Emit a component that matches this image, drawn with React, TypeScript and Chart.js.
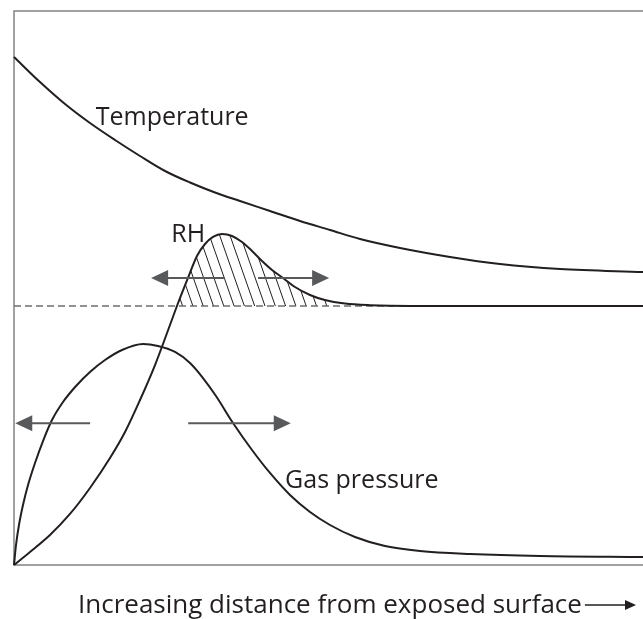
import { useEffect, useRef } from 'react';
import { Chart, registerables } from 'chart.js';

Chart.register(...registerables);

// Distance from exposed surface (arbitrary units 0-100) and relative level (0-100)
const TEMP_X = [0, 4.13, 8.11, 12.08, 16.06, 20.03, 24.01, 27.98, 31.96, 35.93, 40.7, 45.47, 50.24, 55.01, 61.37, 69.32, 77.27, 86.8, 100];
const TEMP_Y = [91.7, 87.18, 83.21, 79.78, 76.71, 73.83, 71.12, 69.04, 67.24, 65.7, 63.9, 62.09, 60.47, 58.84, 57.22, 55.6, 54.33, 53.43, 52.89];

const RH_X = [0, 2.54, 5.72, 8.9, 12.08, 15.26, 17.65, 20.03, 22.42, 24.8, 25.91, 27.66, 29.09, 30.37, 31.64, 33.07, 34.66, 36.25, 37.84, 39.43, 41.02, 42.77, 44.67, 47.06, 49.44, 52.62, 56.6, 63.0, 100];
const RH_Y = [0, 2.35, 5.42, 9.21, 13.9, 19.31, 24.01, 29.78, 36.1, 43.32, 46.75, 51.81, 55.78, 57.94, 59.21, 59.75, 59.39, 58.3, 56.68, 54.87, 53.25, 51.81, 50.18, 48.74, 47.83, 47.2, 46.9, 46.75, 46.75];

const GAS_X = [0, 0.32, 0.79, 1.43, 2.23, 3.34, 4.61, 6.04, 7.79, 9.86, 12.08, 14.47, 17.17, 20.51, 22.89, 25.6, 27.98, 30.05, 32.11, 34.82, 37.84, 40.7, 43.88, 47.06, 50.24, 54.21, 58.98, 64.55, 72.5, 83.63, 100];
const GAS_Y = [0, 3.61, 7.22, 10.83, 14.44, 18.41, 22.38, 26.17, 29.42, 32.31, 34.84, 37.0, 38.81, 39.89, 39.53, 38.45, 36.46, 33.75, 30.51, 25.63, 20.76, 16.61, 12.64, 9.57, 7.22, 5.05, 3.43, 2.53, 1.99, 1.62, 1.44];

const REF_X = [0, 100];
const REF_Y = [46.75, 46.75];

const HATCH_END_X = 50.5;

const CURVE_LABELS = ['Temperature', 'RH', 'Gas pressure'];
const CURVE_LABEL_X = [13.0, 25.0, 43.1];
const CURVE_LABEL_Y = [79.4, 58.3, 13.9];

// arrows: [fromX, toX, y]
const ARROWS = [
  [33.5, 21.8, 51.8],
  [38.8, 50.1, 51.8],
  [12.1, 0.2, 25.6],
  [27.7, 44.0, 25.6],
];

const AXIS_TITLE = 'Increasing distance from exposed surface';

const INK = '#231f20';
const GREY = '#58595b';
const FRAME = '#808285';
const FONT = '"Open Sans", "Noto Sans", sans-serif';

function pts(xs: number[], ys: number[]) {
  return xs.map((x, i) => ({ x, y: ys[i] }));
}

function drawArrow(ctx: CanvasRenderingContext2D, x1: number, y: number, x2: number, headLen: number, halfW: number, lw: number, color: string) {
  const dir = x2 > x1 ? 1 : -1;
  ctx.save();
  ctx.strokeStyle = color;
  ctx.fillStyle = color;
  ctx.lineWidth = lw;
  ctx.beginPath();
  ctx.moveTo(x1, y);
  ctx.lineTo(x2 - dir * headLen * 0.8, y);
  ctx.stroke();
  ctx.beginPath();
  ctx.moveTo(x2, y);
  ctx.lineTo(x2 - dir * headLen, y - halfW);
  ctx.lineTo(x2 - dir * headLen, y + halfW);
  ctx.closePath();
  ctx.fill();
  ctx.restore();
}

const overlay = {
  id: 'overlay',
  beforeDatasetsDraw(chart: any) {
    const { ctx, chartArea, scales } = chart;
    const xS = scales.x;
    const yS = scales.y;
    // frame (no right side)
    ctx.save();
    ctx.strokeStyle = FRAME;
    ctx.lineWidth = 1.5;
    ctx.beginPath();
    ctx.moveTo(chartArea.right + 2, chartArea.top);
    ctx.lineTo(chartArea.left, chartArea.top);
    ctx.lineTo(chartArea.left, chartArea.bottom);
    ctx.lineTo(chartArea.right + 2, chartArea.bottom);
    ctx.stroke();
    ctx.restore();

    // hatch between RH and reference level
    const meta = chart.getDatasetMeta(1);
    const p = meta.data;
    const refY = yS.getPixelForValue(REF_Y[0]);
    const endX = xS.getPixelForValue(HATCH_END_X);
    ctx.save();
    ctx.beginPath();
    ctx.rect(chartArea.left, chartArea.top, endX - chartArea.left, refY - chartArea.top);
    ctx.clip();
    ctx.beginPath();
    ctx.moveTo(p[0].x, p[0].y);
    for (let i = 1; i < p.length; i++) {
      const a = p[i - 1];
      const b = p[i];
      ctx.bezierCurveTo(a.cp2x ?? a.x, a.cp2y ?? a.y, b.cp1x ?? b.x, b.cp1y ?? b.y, b.x, b.y);
    }
    ctx.lineTo(p[p.length - 1].x, refY);
    ctx.lineTo(p[0].x, refY);
    ctx.closePath();
    ctx.clip();
    ctx.strokeStyle = INK;
    ctx.lineWidth = 1;
    const H = 120;
    for (let x0 = chartArea.left - 100; x0 < endX + 10; x0 += 10.3) {
      ctx.beginPath();
      ctx.moveTo(x0, refY - H);
      ctx.lineTo(x0 + H * 0.35, refY);
      ctx.stroke();
    }
    ctx.restore();
  },
  afterDatasetsDraw(chart: any) {
    const { ctx, chartArea, scales } = chart;
    const xS = scales.x;
    const yS = scales.y;
    ARROWS.forEach(([a, b, y]) => {
      drawArrow(ctx, xS.getPixelForValue(a), yS.getPixelForValue(y), xS.getPixelForValue(b), 17, 8, 2, GREY);
    });
    ctx.save();
    ctx.fillStyle = INK;
    ctx.font = `25px ${FONT}`;
    ctx.textBaseline = 'alphabetic';
    ctx.textAlign = 'left';
    CURVE_LABELS.forEach((t, i) => {
      ctx.fillText(t, xS.getPixelForValue(CURVE_LABEL_X[i]), yS.getPixelForValue(CURVE_LABEL_Y[i]));
    });
    // axis title with arrow
    ctx.font = `26px ${FONT}`;
    const tx = chartArea.left + 64;
    const ty = chartArea.bottom + 48;
    ctx.fillText(AXIS_TITLE, tx, ty);
    const w = ctx.measureText(AXIS_TITLE).width;
    ctx.restore();
    drawArrow(ctx, tx + w + 3, ty - 8, chartArea.right - 7, 11, 5, 1.6, INK);
  },
};

export default function App() {
  const ref = useRef<HTMLCanvasElement>(null);
  useEffect(() => {
    if (!ref.current) return;
    const line = {
      borderColor: INK,
      borderWidth: 2,
      pointRadius: 0,
      fill: false,
      cubicInterpolationMode: 'monotone' as const,
      clip: false as any,
    };
    const chart = new Chart(ref.current, {
      type: 'line',
      data: {
        datasets: [
          { label: 'Temperature', data: pts(TEMP_X, TEMP_Y), ...line },
          { label: 'RH', data: pts(RH_X, RH_Y), ...line },
          { label: 'Gas pressure', data: pts(GAS_X, GAS_Y), ...line },
          {
            label: 'Reference', data: pts(REF_X, REF_Y), borderColor: '#6d6e71', borderWidth: 1.5,
            borderDash: [7, 4], pointRadius: 0, fill: false, tension: 0,
          },
        ],
      },
      options: {
        responsive: false,
        animation: false,
        layout: { padding: { left: 14, top: 11, right: 0, bottom: 54 } },
        plugins: { legend: { display: false }, tooltip: { enabled: false }, title: { display: false } },
        scales: {
          x: { type: 'linear', min: 0, max: 100, display: false },
          y: { type: 'linear', min: 0, max: 100, display: false },
        },
      },
      plugins: [overlay],
    });
    return () => chart.destroy();
  }, []);
  return (
    <div style={{ position: 'absolute', left: 0, top: 0, width: 643, height: 619, background: '#fff' }}>
      <canvas ref={ref} width={643} height={619} style={{ display: 'block' }} />
    </div>
  );
}
